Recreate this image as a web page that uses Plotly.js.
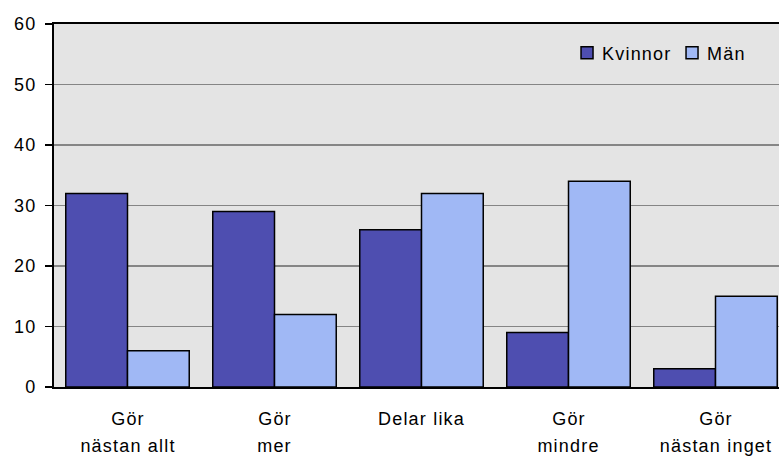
<!DOCTYPE html>
<html><head><meta charset="utf-8">
<script src="https://cdn.plot.ly/plotly-3.0.1.min.js"></script>
<style>html,body{margin:0;padding:0;overflow:hidden;background:#fff}#c{width:800px;height:459px}
#c svg text{letter-spacing:1.2px}
#c .legendtext{transform:translateX(-5px)}</style>
</head><body><div id="c"></div>
<script>
var categories = ["Gör\nnästan allt", "Gör\nmer", "Delar lika", "Gör\nmindre", "Gör\nnästan inget"];
var seriesNames = ["Kvinnor", "Män"];
var kvinnor = [32, 29, 26, 9, 3];
var man = [6, 12, 32, 34, 15];
var yTicks = [0, 10, 20, 30, 40, 50, 60];

var font = "Liberation Sans, Arial, sans-serif";
var traces = [
  {type:"bar", name:seriesNames[0], x:categories, y:kvinnor,
   marker:{color:"#4e4eb0", line:{color:"#000", width:1.5}}},
  {type:"bar", name:seriesNames[1], x:categories, y:man,
   marker:{color:"#a0b8f5", line:{color:"#000", width:1.5}}}
];

var ann = [];
var plotH = 459 - 24 - 72;
var lineY = [419, 446];
categories.forEach(function(c){
  var lines = c.split("\n");
  lines.forEach(function(t, i){
    ann.push({x:c, xref:"x", yref:"paper", y:-(lineY[i]-387)/plotH, yanchor:"middle",
              text:t, showarrow:false, font:{family:font, size:18, color:"#000"}});
  });
});

var layout = {
  width:800, height:459,
  margin:{l:54, r:11, t:24, b:72},
  paper_bgcolor:"#fff", plot_bgcolor:"#e4e4e4",
  barmode:"group", bargap:0.16, bargroupgap:0,
  font:{family:font, size:18, color:"#000"},
  showlegend:true,
  legend:{orientation:"h", x:0.698, xanchor:"left", y:(387-53)/plotH, yanchor:"middle",
          bgcolor:"rgba(0,0,0,0)", font:{family:font, size:18, color:"#000"},
          itemwidth:30, tracegroupgap:0, entrywidth:60},
  xaxis:{showticklabels:false, ticks:"", showline:true, linecolor:"#000", linewidth:2, mirror:true,
         showgrid:false, zeroline:false, fixedrange:true},
  yaxis:{range:[0,60], tickvals:yTicks, ticktext:yTicks.map(String), ticks:"outside", ticklen:7, tickwidth:1.5, tickcolor:"#000",
         showline:true, linecolor:"#000", linewidth:2, showgrid:true, gridcolor:"#858585", gridwidth:1.5,
         zeroline:false, tickfont:{family:font, size:18, color:"#000"}, ticklabelstandoff:5},
  annotations:ann
};
Plotly.newPlot("c", traces, layout, {displayModeBar:false, staticPlot:true});
</script></body></html>
